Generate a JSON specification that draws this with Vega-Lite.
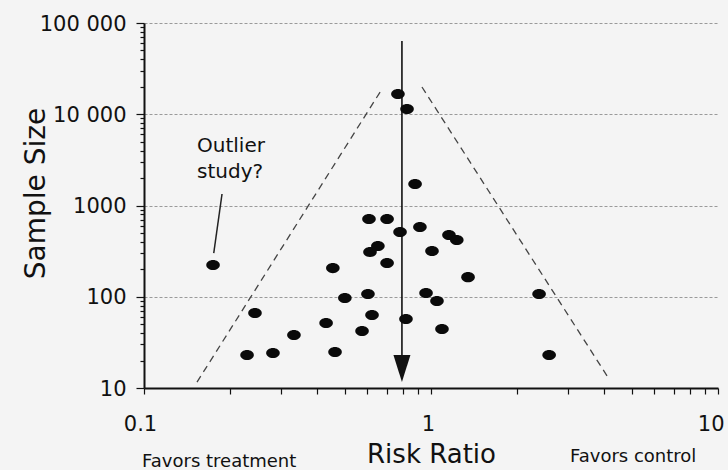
{
  "$schema": "https://vega.github.io/schema/vega-lite/v6.json",
  "width": 574,
  "height": 365,
  "autosize": {"type": "none"},
  "padding": {"left": 144, "top": 23, "right": 10, "bottom": 82},
  "background": "#f4f4f4",
  "config": {
    "view": {"stroke": null},
    "font": "DejaVu Sans"
  },
  "datasets": {
    "studies": [
      {"x": 0.767, "y": 16700}, {"x": 0.825, "y": 11400}, {"x": 0.88, "y": 1720},
      {"x": 0.608, "y": 711}, {"x": 0.703, "y": 711}, {"x": 0.78, "y": 513},
      {"x": 0.915, "y": 581}, {"x": 1.155, "y": 476}, {"x": 1.23, "y": 419},
      {"x": 0.613, "y": 309}, {"x": 0.653, "y": 360}, {"x": 1.008, "y": 317},
      {"x": 0.703, "y": 234}, {"x": 0.455, "y": 206}, {"x": 1.346, "y": 164},
      {"x": 0.501, "y": 97}, {"x": 0.603, "y": 107}, {"x": 0.961, "y": 110},
      {"x": 1.049, "y": 90}, {"x": 0.2436, "y": 66.4}, {"x": 0.431, "y": 51.5},
      {"x": 0.623, "y": 63}, {"x": 0.818, "y": 57}, {"x": 0.333, "y": 38.1},
      {"x": 0.575, "y": 42.2}, {"x": 1.092, "y": 44.4}, {"x": 0.2286, "y": 23.0},
      {"x": 0.2814, "y": 24.2}, {"x": 0.463, "y": 24.8}, {"x": 2.38, "y": 107},
      {"x": 2.58, "y": 23}, {"x": 0.174, "y": 223}
    ],
    "funnel": [
      {"side": "left", "x": 0.153, "y": 11.6}, {"side": "left", "x": 0.675, "y": 18900},
      {"side": "right", "x": 0.93, "y": 19900}, {"side": "right", "x": 4.17, "y": 12.6}
    ],
    "shaft": [
      {"x": 0.792, "y": 63500}, {"x": 0.792, "y": 16}
    ],
    "head": [
      {"x": 0.792, "y": 16.4}
    ],
    "leader": [
      {"x": 0.187, "y": 1336}, {"x": 0.175, "y": 301}
    ],
    "labels": [
      {"x": 0.153, "y": 3855, "label": "Outlier"},
      {"x": 0.153, "y": 2000, "label": "study?"}
    ],
    "favors": [
      {"x": 0.0985, "y": 1.36, "label": "Favors treatment"},
      {"x": 3.05, "y": 1.55, "label": "Favors control"}
    ]
  },
  "encoding": {
    "x": {
      "field": "x",
      "type": "quantitative",
      "scale": {"type": "log", "domain": [0.1, 10], "nice": false, "zero": false},
      "axis": {
        "title": "Risk Ratio",
        "titleFont": "DejaVu Sans",
        "titleFontSize": 26,
        "titleFontWeight": "normal",
        "titleColor": "#111",
        "titleBaseline": "alphabetic",
        "titleY": 74,
        "titleX": 287,
        "values": [0.1, 0.2, 0.3, 0.4, 0.5, 0.6, 0.7, 0.8, 0.9, 1, 2, 3, 4, 5, 6, 7, 8, 9, 10],
        "labelExpr": "datum.value === 0.1 ? '0.1' : datum.value === 1 ? '1' : datum.value === 10 ? '10' : ''",
        "labelFont": "DejaVu Sans",
        "labelFontSize": 21,
        "labelColor": "#111",
        "labelBaseline": "alphabetic",
        "labelAlign": {"condition": {"test": "datum.value === 10", "value": "right"}, "value": "center"},
        "labelOffset": {"condition": [
          {"test": "datum.value === 10", "value": 6},
          {"test": "datum.value === 0.1", "value": -4}
        ], "value": -3},
        "labelPadding": 36,
        "labelOverlap": false,
        "labelFlush": false,
        "domainColor": "#111",
        "domainWidth": 2,
        "tickColor": "#111",
        "tickWidth": 1.2,
        "tickSize": 6,
        "grid": false
      }
    },
    "y": {
      "field": "y",
      "type": "quantitative",
      "scale": {"type": "log", "domain": [10, 100000], "nice": false, "zero": false},
      "axis": {
        "title": "Sample Size",
        "titleFont": "DejaVu Sans",
        "titleFontSize": 28,
        "titleFontWeight": "normal",
        "titleColor": "#111",
        "titleX": -100,
        "titleY": 170,
        "titleAngle": -90,
        "titleBaseline": "alphabetic",
        "values": [10, 20, 30, 40, 50, 60, 70, 80, 90, 100, 200, 300, 400, 500, 600, 700, 800, 900, 1000, 2000, 3000, 4000, 5000, 6000, 7000, 8000, 9000, 10000, 20000, 30000, 40000, 50000, 60000, 70000, 80000, 90000, 100000],
        "labelExpr": "datum.value === 10 ? '10' : datum.value === 100 ? '100' : datum.value === 1000 ? '1000' : datum.value === 10000 ? '10 000' : datum.value === 100000 ? '100 000' : ''",
        "labelFont": "DejaVu Sans",
        "labelFontSize": 21,
        "labelColor": "#111",
        "labelPadding": 10,
        "labelOffset": 1,
        "labelOverlap": false,
        "labelFlush": false,
        "domainColor": "#111",
        "domainWidth": 2,
        "tickColor": "#111",
        "tickWidth": 1.2,
        "tickSize": {"condition": {"test": "indexof([10,100,1000,10000,100000], datum.value) >= 0", "value": 8}, "value": 4},
        "grid": true,
        "gridColor": "#9a9a9a",
        "gridDash": [3, 2],
        "gridWidth": 1,
        "gridOpacity": {"condition": {"test": "indexof([100,1000,10000,100000], datum.value) >= 0", "value": 1}, "value": 0}
      }
    }
  },
  "layer": [
    {
      "data": {"name": "funnel"},
      "mark": {"type": "line", "color": "#444", "strokeWidth": 1.3, "strokeDash": [7, 5]},
      "encoding": {"detail": {"field": "side"}}
    },
    {
      "data": {"name": "shaft"},
      "mark": {"type": "line", "color": "#111", "strokeWidth": 1.6},
      "encoding": {}
    },
    {
      "data": {"name": "head"},
      "mark": {"type": "point", "shape": "M-0.63,-1L0.63,-1L0,1Z", "size": 729, "filled": true, "color": "#111", "opacity": 1}
    },
    {
      "data": {"name": "leader"},
      "mark": {"type": "line", "color": "#222", "strokeWidth": 1.5},
      "encoding": {}
    },
    {
      "data": {"name": "studies"},
      "mark": {"type": "point", "shape": "M-1,0A1,0.74,0,1,1,1,0A1,0.74,0,1,1,-1,0Z", "size": 185, "filled": true, "color": "#0a0a0a", "opacity": 1}
    },
    {
      "data": {"name": "labels"},
      "mark": {"type": "text", "align": "left", "baseline": "alphabetic", "font": "DejaVu Sans", "fontSize": 20, "color": "#111"},
      "encoding": {"text": {"field": "label"}}
    },
    {
      "data": {"name": "favors"},
      "mark": {"type": "text", "align": "left", "baseline": "alphabetic", "font": "DejaVu Sans", "fontSize": 18, "color": "#111"},
      "encoding": {"text": {"field": "label"}}
    }
  ]
}
